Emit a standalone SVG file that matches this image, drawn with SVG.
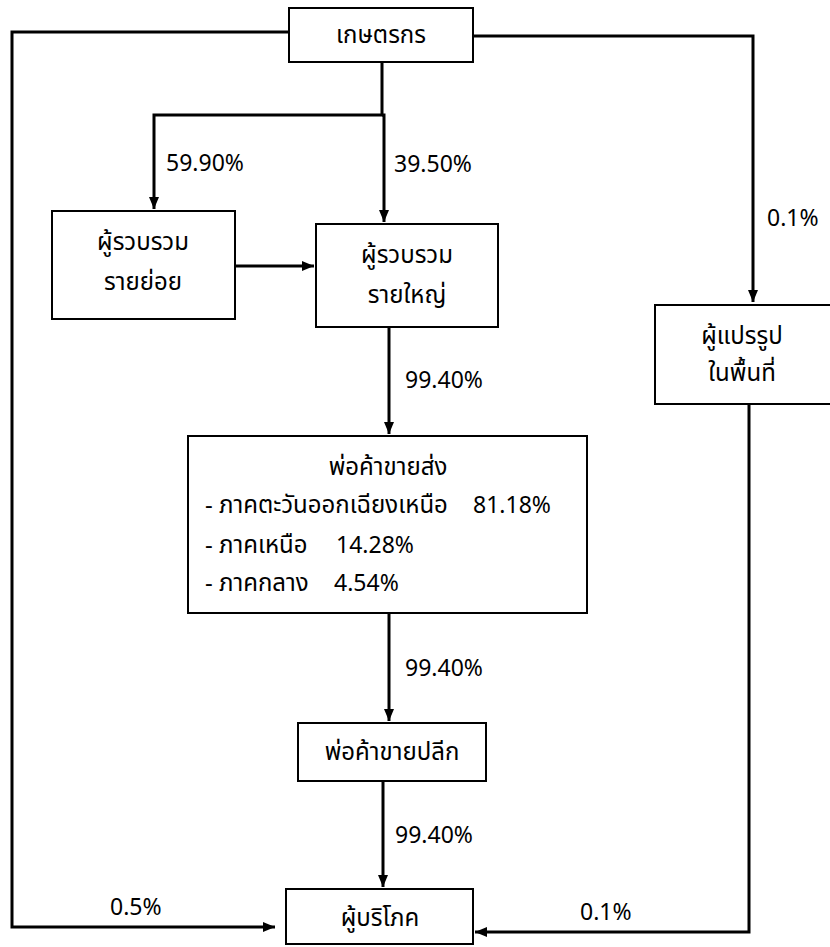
<svg xmlns="http://www.w3.org/2000/svg" width="830" height="947" viewBox="0 0 830 947">
<defs>
<marker id="arr" viewBox="0 0 12 10" refX="12" refY="5" markerWidth="12" markerHeight="10" markerUnits="userSpaceOnUse" orient="auto">
<path d="M0,0 L12,5 L0,10 Z" fill="#000"/>
</marker>
<style>
.box{fill:#fff;stroke:#000;stroke-width:2}
.ln{fill:none;stroke:#000;stroke-width:3}
.t{font-family:"Noto Sans Thai","Noto Sans","DejaVu Sans",sans-serif;font-size:23px;fill:#000}
.th{font-size:24px}
.c{text-anchor:middle}
</style>
</defs>
<rect width="830" height="947" fill="#fff"/>
<g id="connectors">
<path class="ln" d="M289,32 H12 V927 H275" marker-end="url(#arr)"/>
<path class="ln" d="M473,36 H753 V302" marker-end="url(#arr)"/>
<path class="ln" d="M382,62 V115 H154 V209" marker-end="url(#arr)"/>
<path class="ln" d="M382,115 H384 V222" marker-end="url(#arr)"/>
<path class="ln" d="M235,266 H314" marker-end="url(#arr)"/>
<path class="ln" d="M389,327 V434" marker-end="url(#arr)"/>
<path class="ln" d="M389,613 V721" marker-end="url(#arr)"/>
<path class="ln" d="M383,781 V887" marker-end="url(#arr)"/>
<path class="ln" d="M749,404 V932 H475" marker-end="url(#arr)"/>
<text class="t" x="166" y="171">59.90%</text>
<text class="t" x="394" y="172">39.50%</text>
<text class="t" x="767" y="226">0.1%</text>
<text class="t" x="405" y="388">99.40%</text>
<text class="t" x="405" y="676">99.40%</text>
<text class="t" x="395" y="843">99.40%</text>
<text class="t" x="110" y="915">0.5%</text>
<text class="t" x="580" y="920">0.1%</text>
</g>
<g id="n-farmer">
<rect class="box" x="289" y="8" width="184" height="54"/>
<text class="t th c" x="381" y="43">เกษตรกร</text>
</g>
<g id="n-small-collector">
<rect class="box" x="52" y="211" width="183" height="108"/>
<text class="t th c" x="143" y="250">ผู้รวบรวม</text>
<text class="t th c" x="143" y="290">รายย่อย</text>
</g>
<g id="n-large-collector">
<rect class="box" x="316" y="224" width="182" height="103"/>
<text class="t th c" x="407" y="263">ผู้รวบรวม</text>
<text class="t th c" x="407" y="303">รายใหญ่</text>
</g>
<g id="n-processor">
<rect class="box" x="655" y="305" width="180" height="99"/>
<text class="t th c" x="742" y="344">ผู้แปรรูป</text>
<text class="t th c" x="742" y="381">ในพื้นที่</text>
</g>
<g id="n-wholesaler">
<rect class="box" x="188" y="436" width="399" height="177"/>
<text class="t th c" x="388" y="475">พ่อค้าขายส่ง</text>
<text class="t th" x="205" y="513">- ภาคตะวันออกเฉียงเหนือ<tspan x="473" font-size="23">81.18%</tspan></text>
<text class="t th" x="205" y="553">- ภาคเหนือ<tspan x="336" font-size="23">14.28%</tspan></text>
<text class="t th" x="205" y="591">- ภาคกลาง<tspan x="334" font-size="23">4.54%</tspan></text>
</g>
<g id="n-retailer">
<rect class="box" x="298" y="723" width="188" height="58"/>
<text class="t th c" x="392" y="760">พ่อค้าขายปลีก</text>
</g>
<g id="n-consumer">
<rect class="box" x="286" y="889" width="187" height="55"/>
<text class="t th c" x="380" y="926">ผู้บริโภค</text>
</g>
</svg>
